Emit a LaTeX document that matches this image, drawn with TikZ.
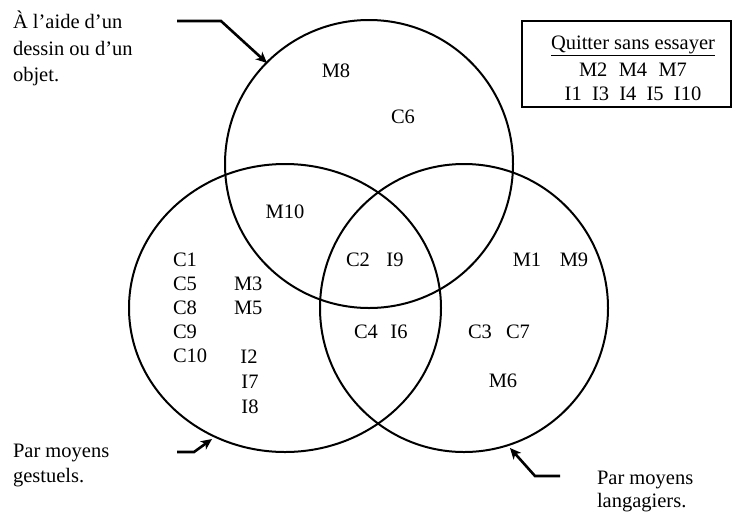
\documentclass[tikz,border=0pt]{standalone}
\usepackage{fontspec}
\setmainfont{Liberation Serif}
\usetikzlibrary{arrows.meta}
\begin{document}
\begin{tikzpicture}[x=1pt,y=-1pt,
  lbl/.style={inner sep=0pt,outer sep=0pt,font=\fontsize{20.5}{24.6}\selectfont,anchor=base},
  lblw/.style={lbl,anchor=base west},
  ring/.style={line width=2pt},
  pointer/.style={line width=2.6pt,-{Stealth[length=11pt,width=10pt,inset=3pt]}},
  framebox/.style={line width=2.2pt}]
\useasboundingbox (0,0) rectangle (733,512);
% circles
\draw[ring] (369,164) circle [radius=144pt];
\draw[ring] (285,308) ellipse [x radius=156pt, y radius=144pt];
\draw[ring] (464,308) circle [radius=144pt];
% box
\draw[framebox] (522,21) rectangle (731,107);
\node[lbl] (q) at (633,49) {\underline{Quitter sans essayer}};
\node[lbl] (qm) at (633,76) {M2\hspace{0.55em}M4\hspace{0.55em}M7};
\node[lbl] (qi) at (633,100) {I1\hspace{0.5em}I3\hspace{0.5em}I4\hspace{0.5em}I5\hspace{0.5em}I10};
% top circle
\node[lbl] (m8) at (336,77) {M8};
\node[lbl] (c6) at (403,123) {C6};
\node[lbl] (m10) at (285,218) {M10};
% center
\node[lbl] (c2) at (358,266) {C2};
\node[lbl] (i9) at (395,266) {I9};
\node[lbl] (c4) at (366,338) {C4};
\node[lbl] (i6) at (399,338) {I6};
% left circle
\node[lblw] (c1) at (173,266) {C1};
\node[lblw] (c5) at (173,290) {C5};
\node[lblw] (c8) at (173,314) {C8};
\node[lblw] (c9) at (173,338) {C9};
\node[lblw] (c10) at (173,362) {C10};
\node[lblw] (m3) at (234,290) {M3};
\node[lblw] (m5) at (234,314) {M5};
\node[lbl] (i2) at (249,363) {I2};
\node[lbl] (i7) at (250,388) {I7};
\node[lbl] (i8) at (250,413) {I8};
% right circle
\node[lbl] (m1) at (527,266) {M1};
\node[lbl] (m9) at (574,266) {M9};
\node[lbl] (c3) at (480,338) {C3};
\node[lbl] (c7) at (518,338) {C7};
\node[lbl] (m6) at (503,387) {M6};
% outside labels
\node[lblw] (a1) at (13,28) {À l’aide d’un};
\node[lblw] (a2) at (13,55) {dessin ou d’un};
\node[lblw] (a3) at (13,81) {objet.};
\node[lblw] (g1) at (13,457) {Par moyens};
\node[lblw] (g2) at (13,482) {gestuels.};
\node[lblw] (l1) at (597,484) {Par moyens};
\node[lblw] (l2) at (597,507) {langagiers.};
% arrows
\coordinate (ta0) at (177,21);
\coordinate (ta1) at (221,21);
\coordinate (ta2) at (267,63);
\draw[pointer] (ta0) -- (ta1) -- (ta2);
\coordinate (ga0) at (177,452);
\coordinate (ga1) at (194,452);
\coordinate (ga2) at (212,439);
\draw[pointer] (ga0) -- (ga1) -- (ga2);
\coordinate (la0) at (560,476);
\coordinate (la1) at (535,476);
\coordinate (la2) at (510,448);
\draw[pointer] (la0) -- (la1) -- (la2);
\end{tikzpicture}
\end{document}
